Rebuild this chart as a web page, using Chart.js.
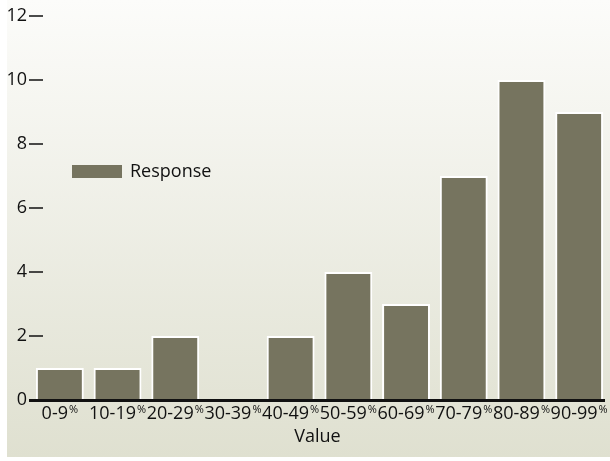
<!DOCTYPE html>
<html>
<head>
<meta charset="utf-8">
<script src="https://cdn.jsdelivr.net/npm/chart.js@4/dist/chart.umd.min.js"></script>
<style>
  html, body { margin: 0; padding: 0; background: #ffffff; }
  #wrap { width: 610px; height: 461px; position: relative; }
</style>
</head>
<body>
<div id="wrap"><canvas id="c" width="610" height="461"></canvas></div>
<script>
// Response counts per score band
const categories = ['0-9', '10-19', '20-29', '30-39', '40-49', '50-59', '60-69', '70-79', '80-89', '90-99'];
const responses = [1, 1, 2, 0, 2, 4, 3, 7, 10, 9];
const yTicks = [0, 2, 4, 6, 8, 10, 12];
const seriesName = 'Response';
const axisTitle = 'Value';

const BAR = '#76745f';
const FONT = '"Open Sans", "Noto Sans", sans-serif';

// Panel background, tick labels, axis, category labels and legend
const decor = {
  id: 'decor',
  beforeDraw(chart) {
    const ctx = chart.ctx;
    const g = ctx.createLinearGradient(0, 0, 0, 457);
    g.addColorStop(0, '#fcfcfa');
    g.addColorStop(1, '#dfe0d0');
    ctx.save();
    ctx.fillStyle = '#ffffff';
    ctx.fillRect(0, 0, chart.width, chart.height);
    ctx.fillStyle = g;
    ctx.fillRect(7, 0, chart.width - 7, 457);
    ctx.restore();
  },
  afterDraw(chart) {
    const ctx = chart.ctx;
    const x = chart.scales.x, y = chart.scales.y;
    const area = chart.chartArea;
    ctx.save();
    // y tick labels with dash marks
    ctx.fillStyle = '#111111';
    ctx.strokeStyle = '#111111';
    ctx.font = '18px ' + FONT;
    ctx.textAlign = 'right';
    ctx.textBaseline = 'middle';
    ctx.lineWidth = 1.5;
    yTicks.forEach(v => {
      const py = y.getPixelForValue(v);
      ctx.fillText(String(v), 27, py);
      ctx.beginPath();
      ctx.moveTo(29, py);
      ctx.lineTo(43, py);
      ctx.stroke();
    });
    // x axis line
    ctx.lineWidth = 3;
    ctx.beginPath();
    ctx.moveTo(29, y.getPixelForValue(0) + 0.5);
    ctx.lineTo(area.right - 3, y.getPixelForValue(0) + 0.5);
    ctx.stroke();
    // category labels with small raised percent sign
    ctx.textBaseline = 'alphabetic';
    ctx.textAlign = 'left';
    categories.forEach((c, i) => {
      const cx = x.getPixelForValue(i);
      ctx.font = '18px ' + FONT;
      const w1 = ctx.measureText(c).width;
      ctx.font = '11px ' + FONT;
      const w2 = ctx.measureText('%').width;
      const sx = cx - (w1 + w2 + 1) / 2;
      ctx.font = '18px ' + FONT;
      ctx.fillText(c, sx, 419);
      ctx.font = '11px ' + FONT;
      ctx.fillText('%', sx + w1 + 1, 413);
    });
    // axis title
    ctx.font = '18px ' + FONT;
    ctx.textAlign = 'center';
    ctx.textBaseline = 'middle';
    ctx.fillText(axisTitle, (area.left + area.right) / 2 - 2, 437);
    // legend
    ctx.fillStyle = BAR;
    ctx.fillRect(72, 165, 50, 13);
    ctx.fillStyle = '#111111';
    ctx.textAlign = 'left';
    ctx.font = '18px ' + FONT;
    ctx.fillText(seriesName, 130, 172);
    ctx.restore();
  }
};

new Chart(document.getElementById('c'), {
  type: 'bar',
  data: {
    labels: categories,
    datasets: [{
      label: seriesName,
      data: responses,
      backgroundColor: BAR,
      borderColor: '#ffffff',
      borderWidth: 2,
      borderSkipped: 'bottom',
      barPercentage: 0.83,
      categoryPercentage: 1
    }]
  },
  options: {
    responsive: false,
    animation: false,
    layout: { padding: { left: 31, right: 2, top: 16, bottom: 61 } },
    plugins: { legend: { display: false }, tooltip: { enabled: false } },
    scales: {
      x: { display: false },
      y: { display: false, min: 0, max: 12 }
    }
  },
  plugins: [decor]
});
</script>
</body>
</html>
